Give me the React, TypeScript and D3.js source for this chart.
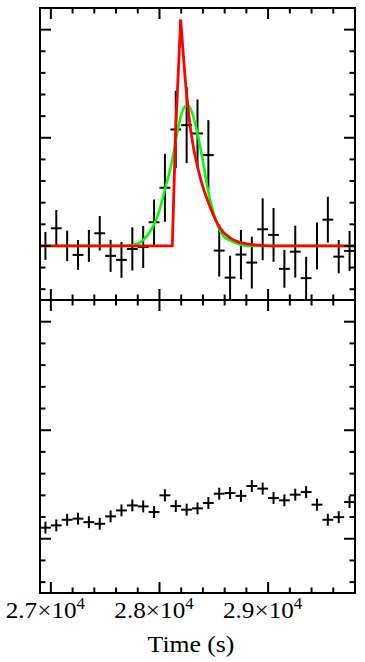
import React from 'react';
import * as d3 from 'd3';

// ---- data ----
const binTimes = [
  26950, 27050, 27150, 27250, 27350, 27450, 27550, 27650, 27750, 27850,
  27950, 28050, 28150, 28250, 28350, 28450, 28550, 28650, 28750, 28850,
  28950, 29050, 29150, 29250, 29350, 29450, 29550, 29650, 29750,
];
const binHalfWidth = 50;

// upper panel: source light curve
const srcRate = [
  1.0, 1.163, 1.0, 0.917, 1.0, 1.117, 0.908, 0.871, 0.972, 0.991,
  1.219, 1.538, 2.077, 2.117, 2.04, 1.84, 0.957, 0.707, 0.92, 0.846,
  1.154, 1.102, 0.788, 0.947, 0.702, 1.0, 1.243, 0.901, 0.954,
];
const srcErr = [
  0.129, 0.169, 0.141, 0.138, 0.148, 0.16, 0.148, 0.166, 0.2, 0.194,
  0.21, 0.314, 0.357, 0.351, 0.314, 0.323, 0.24, 0.203, 0.228, 0.24,
  0.286, 0.249, 0.175, 0.24, 0.198, 0.217, 0.212, 0.154, 0.185,
];

// lower panel: background light curve
const bkgRate = [
  1.102, 1.123, 1.175, 1.185, 1.153, 1.138, 1.206, 1.261, 1.307, 1.298,
  1.246, 1.4, 1.301, 1.268, 1.28, 1.329, 1.415, 1.421, 1.395, 1.486,
  1.462, 1.375, 1.354, 1.406, 1.43, 1.314, 1.175, 1.199, 1.338,
];
const bkgErr = [
  0.055, 0.055, 0.055, 0.055, 0.055, 0.055, 0.055, 0.055, 0.055, 0.055,
  0.055, 0.055, 0.055, 0.055, 0.055, 0.055, 0.055, 0.055, 0.055, 0.055,
  0.055, 0.055, 0.055, 0.055, 0.055, 0.055, 0.055, 0.055, 0.055,
];

// green model (Gaussian-like pulse)
const greenT = [26900, 27640, 27760, 27850, 27940, 28000, 28057, 28118, 28168, 28207, 28253, 28299, 28343, 28398, 28440, 28490, 28541, 28588, 28649, 28741, 28833, 29800];
const greenV = [1, 1, 1.009, 1.055, 1.178, 1.332, 1.547, 1.794, 2.071, 2.237, 2.302, 2.237, 2.071, 1.794, 1.547, 1.332, 1.178, 1.092, 1.051, 1.014, 1, 1];

// red model (fast rise, exponential decay)
const redRiseT = [26900, 28118, 28149, 28195];
const redRiseV = [1, 1, 2.071, 3.093];
const redDecayT = [28195, 28235, 28287, 28373, 28465, 28557, 28649, 28768, 28925, 29109, 29800];
const redDecayV = [3.093, 2.563, 2.071, 1.64, 1.363, 1.166, 1.074, 1.025, 1.006, 1.0, 1.0];

const xTickValues = [27000, 28000, 29000];
const xTickMantissa = ['2.7', '2.8', '2.9'];
const xTickExponent = ['4', '4', '4'];
const xTitle = 'Time (s)';

// ---- layout ----
const W = 365;
const H = 662;
const L = 40, R = 355, T = 8, M = 300, B = 593;
const MAJ = 11, MIN = 5.5;
const FONT = 'Liberation Serif, Times New Roman, serif';

export default function App() {
  const x = d3.scaleLinear().domain([26900, 29800]).range([L, R]);
  const yTop = d3.scaleLinear().domain([0.5, 3.2]).range([M, T]);
  const yBot = d3.scaleLinear().domain([0.5, 3.2]).range([B, M]);

  const xMinor = d3.range(27000, 29800, 200);
  const yMinor = d3.range(6, 32, 2).map((d) => d / 10);

  const panelTicks = (y: d3.ScaleLinear<number, number>, yb: number, yt: number, key: string) => {
    const out: JSX.Element[] = [];
    xMinor.forEach((t, i) => {
      const len = t % 1000 === 0 ? MAJ : MIN;
      const px = x(t);
      out.push(<line key={`${key}xb${i}`} x1={px} x2={px} y1={yb} y2={yb - len} />);
      out.push(<line key={`${key}xt${i}`} x1={px} x2={px} y1={yt} y2={yt + len} />);
    });
    yMinor.forEach((v, i) => {
      const len = Math.round(v * 10) % 10 === 0 ? MAJ : MIN;
      const py = y(v);
      out.push(<line key={`${key}yl${i}`} x1={L} x2={L + len} y1={py} y2={py} />);
      out.push(<line key={`${key}yr${i}`} x1={R} x2={R - len} y1={py} y2={py} />);
    });
    return out;
  };

  const crosses = (y: d3.ScaleLinear<number, number>, rates: number[], errs: number[], key: string) =>
    binTimes.map((t, i) => (
      <g key={`${key}${i}`}>
        <line x1={x(t - binHalfWidth)} x2={x(t + binHalfWidth)} y1={y(rates[i])} y2={y(rates[i])} />
        <line x1={x(t)} x2={x(t)} y1={y(rates[i] - errs[i])} y2={y(rates[i] + errs[i])} />
      </g>
    ));

  const mk = (ts: number[], vs: number[], curve: d3.CurveFactory) =>
    d3
      .line<number>()
      .x((t) => x(t))
      .y((_, i) => yTop(vs[i]))
      .curve(curve)(ts) || '';

  const greenPath = mk(greenT, greenV, d3.curveMonotoneX);
  const redRise = mk(redRiseT, redRiseV, d3.curveLinear);
  const redDecay = mk(redDecayT, redDecayV, d3.curveMonotoneX);

  return (
    <svg
      width={W}
      height={H}
      viewBox={`0 0 ${W} ${H}`}
      style={{ position: 'absolute', left: 0, top: 0, background: '#fff' }}
    >
      <defs>
        <clipPath id="clipTop">
          <rect x={L} y={T} width={R - L} height={M - T} />
        </clipPath>
        <clipPath id="clipBot">
          <rect x={L} y={M} width={R - L} height={B - M} />
        </clipPath>
      </defs>
      <rect x={0} y={0} width={W} height={H} fill="#fff" />

      {/* upper panel data */}
      <g clipPath="url(#clipTop)" stroke="#000" strokeWidth={2}>
        {crosses(yTop, srcRate, srcErr, 's')}
      </g>
      <g clipPath="url(#clipTop)" fill="none" strokeLinejoin="round">
        <path d={greenPath} stroke="#00ff00" strokeWidth={2.6} />
        <path d={redRise} stroke="#ff0000" strokeWidth={2.8} />
        <path d={redDecay} stroke="#ff0000" strokeWidth={2.8} />
      </g>

      {/* lower panel data */}
      <g clipPath="url(#clipBot)" stroke="#000" strokeWidth={2}>
        {crosses(yBot, bkgRate, bkgErr, 'b')}
      </g>

      {/* ticks */}
      <g stroke="#000" strokeWidth={2}>
        {panelTicks(yTop, M, T, 'top')}
        {panelTicks(yBot, B, M, 'bot')}
      </g>

      {/* frames */}
      <g fill="none" stroke="#000" strokeWidth={2}>
        <rect x={L} y={T} width={R - L} height={B - T} />
        <line x1={L} x2={R} y1={M} y2={M} />
      </g>

      {/* x tick labels */}
      <g style={{ fontFamily: FONT }} fill="#000">
        {xTickValues.map((t, i) => (
          <text
            key={`xl${i}`}
            transform={`translate(${x(t) - 5.5},618) scale(1.05,1)`}
            textAnchor="middle"
            fontSize={24}
          >
            {xTickMantissa[i]}×10
            <tspan dy={-9} fontSize={16}>
              {xTickExponent[i]}
            </tspan>
          </text>
        ))}
        <text
          transform={`translate(${(L + R) / 2 - 6.5},652) scale(1.07,1)`}
          textAnchor="middle"
          fontSize={24}
        >
          {xTitle}
        </text>
      </g>
    </svg>
  );
}
